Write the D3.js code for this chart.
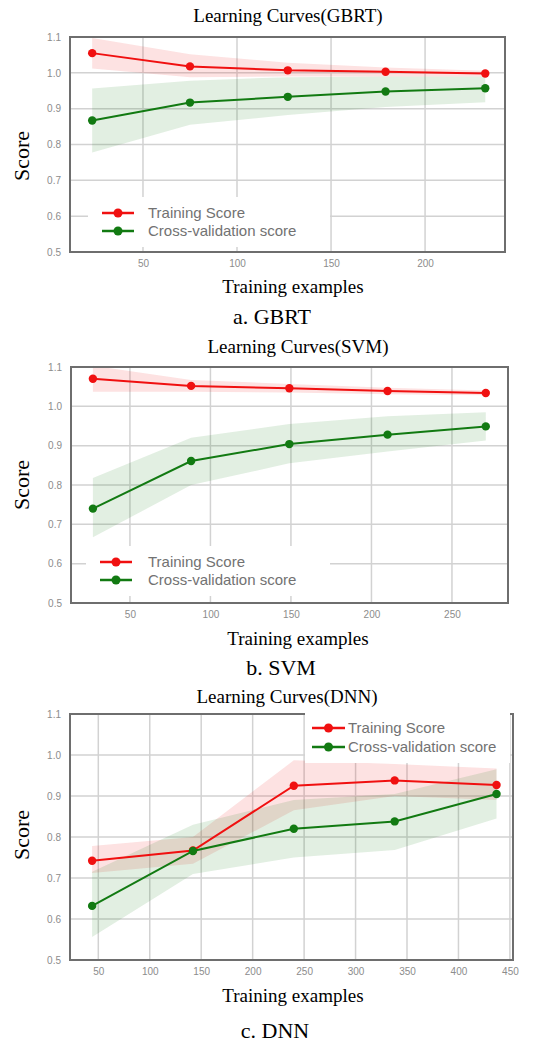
<!DOCTYPE html>
<html>
<head>
<meta charset="utf-8">
<script src="https://cdn.jsdelivr.net/npm/d3@7"></script>
<style>
  body { margin: 0; background: #fff; }
  svg { display: block; }
</style>
</head>
<body>
<svg width="550" height="1043"></svg>
<script>
// ---- data ----
const yTicks = [0.5, 0.6, 0.7, 0.8, 0.9, 1.0, 1.1];
const seriesNames = ["Training Score", "Cross-validation score"];

const gbrtSizes = [23, 75, 127, 179, 232];
const gbrtTrain = [1.055, 1.018, 1.007, 1.003, 0.998];
const gbrtTrainLo = [1.012, 0.988, 0.990, 0.990, 0.990];
const gbrtTrainHi = [1.097, 1.052, 1.028, 1.015, 1.006];
const gbrtCv = [0.867, 0.917, 0.933, 0.948, 0.957];
const gbrtCvLo = [0.778, 0.855, 0.882, 0.905, 0.918];
const gbrtCvHi = [0.956, 0.978, 0.988, 0.990, 0.990];
const gbrtXTicks = [50, 100, 150, 200];

const svmSizes = [27, 88, 149, 210, 271];
const svmTrain = [1.070, 1.052, 1.046, 1.039, 1.034];
const svmTrainLo = [1.037, 1.037, 1.035, 1.031, 1.028];
const svmTrainHi = [1.103, 1.067, 1.057, 1.047, 1.040];
const svmCv = [0.740, 0.861, 0.904, 0.928, 0.949];
const svmCvLo = [0.667, 0.800, 0.855, 0.885, 0.913];
const svmCvHi = [0.818, 0.920, 0.955, 0.975, 0.985];
const svmXTicks = [50, 100, 150, 200, 250];

const dnnSizes = [44, 142, 240, 338, 437];
const dnnTrain = [0.742, 0.767, 0.925, 0.938, 0.927];
const dnnTrainLo = [0.712, 0.735, 0.865, 0.900, 0.890];
const dnnTrainHi = [0.778, 0.800, 0.987, 0.978, 0.967];
const dnnCv = [0.632, 0.766, 0.820, 0.838, 0.905];
const dnnCvLo = [0.556, 0.710, 0.750, 0.768, 0.845];
const dnnCvHi = [0.715, 0.830, 0.890, 0.905, 0.965];
const dnnXTicks = [50, 100, 150, 200, 250, 300, 350, 400, 450];

const svg = d3.select("svg");
const serif = "'Liberation Serif', 'Times New Roman', serif";
const sans = "'Liberation Sans', Arial, sans-serif";
const red = "#f01010";
const green = "#127a12";

function drawPanel(p) {
    const x = d3.scaleLinear().domain(p.xDomain).range([p.left, p.right]);
    const y = d3.scaleLinear().domain([0.5, 1.1]).range([p.bottom, p.top]);
    const g = svg.append("g");

    // grid lines
    g.selectAll(".gx").data(p.xTicks).enter().append("line")
        .attr("x1", d => x(d)).attr("x2", d => x(d))
        .attr("y1", p.top).attr("y2", p.bottom)
        .attr("stroke", "#d2d2d2").attr("stroke-width", 1.5);
    g.selectAll(".gy").data(yTicks).enter().append("line")
        .attr("x1", p.left).attr("x2", p.right)
        .attr("y1", d => y(d)).attr("y2", d => y(d))
        .attr("stroke", "#d2d2d2").attr("stroke-width", 1.5);

    // axes (labels only, matplotlib style, no tick marks)
    const xAxis = g.append("g")
        .attr("transform", `translate(0,${p.bottom})`)
        .call(d3.axisBottom(x).tickValues(p.xTicks).tickSize(0).tickPadding(8).tickFormat(d3.format("d")));
    const yAxis = g.append("g")
        .attr("transform", `translate(${p.left},0)`)
        .call(d3.axisLeft(y).tickValues(yTicks).tickSize(0).tickPadding(9).tickFormat(d3.format(".1f")));
    [xAxis, yAxis].forEach(a => {
        a.select(".domain").remove();
        a.selectAll("text").attr("fill", "#8c8c8c").style("font-family", sans).style("font-size", "10px");
    });

    // bands
    const series = [
        {mean: p.train, lo: p.trainLo, hi: p.trainHi, color: red},
        {mean: p.cv, lo: p.cvLo, hi: p.cvHi, color: green}
    ];
    const area = d3.area()
        .x(d => x(d.s)).y0(d => y(d.lo)).y1(d => y(d.hi));
    series.forEach(s => {
        const pts = p.sizes.map((v, i) => ({s: v, lo: s.lo[i], hi: s.hi[i]}));
        g.append("path").datum(pts).attr("d", area)
            .attr("fill", s.color).attr("fill-opacity", 0.12);
    });

    // lines + markers
    const line = d3.line().x(d => x(d.s)).y(d => y(d.v));
    series.forEach(s => {
        const pts = p.sizes.map((v, i) => ({s: v, v: s.mean[i]}));
        g.append("path").datum(pts).attr("d", line)
            .attr("fill", "none").attr("stroke", s.color).attr("stroke-width", 2);
        g.selectAll(null).data(pts).enter().append("circle")
            .attr("cx", d => x(d.s)).attr("cy", d => y(d.v)).attr("r", 4.2)
            .attr("fill", s.color);
    });

    // frame
    g.append("rect")
        .attr("x", p.left).attr("y", p.top)
        .attr("width", p.right - p.left).attr("height", p.bottom - p.top)
        .attr("fill", "none").attr("stroke", "#6e6e6e").attr("stroke-width", 2);

    // legend
    const lg = p.legend;
    g.append("rect")
        .attr("x", lg.boxX).attr("y", lg.rows[0] - 16)
        .attr("width", lg.boxW).attr("height", lg.rows[1] - lg.rows[0] + 32)
        .attr("fill", "#fff");
    [red, green].forEach((c, i) => {
        const ly = lg.rows[i];
        g.append("line").attr("x1", lg.x0).attr("x2", lg.x1).attr("y1", ly).attr("y2", ly)
            .attr("stroke", c).attr("stroke-width", 2.5);
        g.append("circle").attr("cx", (lg.x0 + lg.x1) / 2).attr("cy", ly).attr("r", 4.5).attr("fill", c);
        g.append("text").attr("x", lg.tx).attr("y", ly + 5)
            .attr("fill", "#727272").style("font-family", sans).style("font-size", "15px")
            .text(seriesNames[i]);
    });

    // titles
    svg.append("text").attr("x", p.titleX).attr("y", p.titleY).attr("text-anchor", "middle")
        .style("font-family", serif).style("font-size", "19px").text(p.title);
    svg.append("text").attr("x", p.xlabX).attr("y", p.xlabY).attr("text-anchor", "middle")
        .style("font-family", serif).style("font-size", "19px").text("Training examples");
    svg.append("text").attr("transform", `translate(${p.ylabX},${p.ylabY}) rotate(-90)`)
        .attr("text-anchor", "middle")
        .style("font-family", serif).style("font-size", "22px").text("Score");
    svg.append("text").attr("x", p.capX).attr("y", p.capY).attr("text-anchor", "middle")
        .style("font-family", serif).style("font-size", "22px").text(p.caption);
}

drawPanel({
    left: 70, right: 505, top: 37, bottom: 252, xDomain: [11.2, 242.5], xTicks: gbrtXTicks,
    sizes: gbrtSizes, train: gbrtTrain, trainLo: gbrtTrainLo, trainHi: gbrtTrainHi,
    cv: gbrtCv, cvLo: gbrtCvLo, cvHi: gbrtCvHi,
    legend: {boxX: 88, boxW: 242, rows: [213, 231], x0: 102, x1: 134, tx: 148},
    title: "Learning Curves(GBRT)", titleX: 288, titleY: 22,
    xlabX: 293, xlabY: 293, ylabX: 29, ylabY: 156,
    caption: "a. GBRT", capX: 272, capY: 324
});

drawPanel({
    left: 71, right: 508, top: 367, bottom: 603, xDomain: [13.4, 284.8], xTicks: svmXTicks,
    sizes: svmSizes, train: svmTrain, trainLo: svmTrainLo, trainHi: svmTrainHi,
    cv: svmCv, cvLo: svmCvLo, cvHi: svmCvHi,
    legend: {boxX: 86, boxW: 244, rows: [562, 580], x0: 100, x1: 132, tx: 148},
    title: "Learning Curves(SVM)", titleX: 298, titleY: 353,
    xlabX: 298, xlabY: 645, ylabX: 29, ylabY: 485,
    caption: "b. SVM", capX: 281, capY: 675
});

drawPanel({
    left: 70, right: 513, top: 714, bottom: 960, xDomain: [22.5, 453], xTicks: dnnXTicks,
    sizes: dnnSizes, train: dnnTrain, trainLo: dnnTrainLo, trainHi: dnnTrainHi,
    cv: dnnCv, cvLo: dnnCvLo, cvHi: dnnCvHi,
    legend: {boxX: 305, boxW: 205, rows: [728, 747], x0: 312, x1: 345, tx: 348},
    title: "Learning Curves(DNN)", titleX: 287, titleY: 703,
    xlabX: 293, xlabY: 1002, ylabX: 29, ylabY: 835,
    caption: "c. DNN", capX: 275, capY: 1038
});
</script>
</body>
</html>
